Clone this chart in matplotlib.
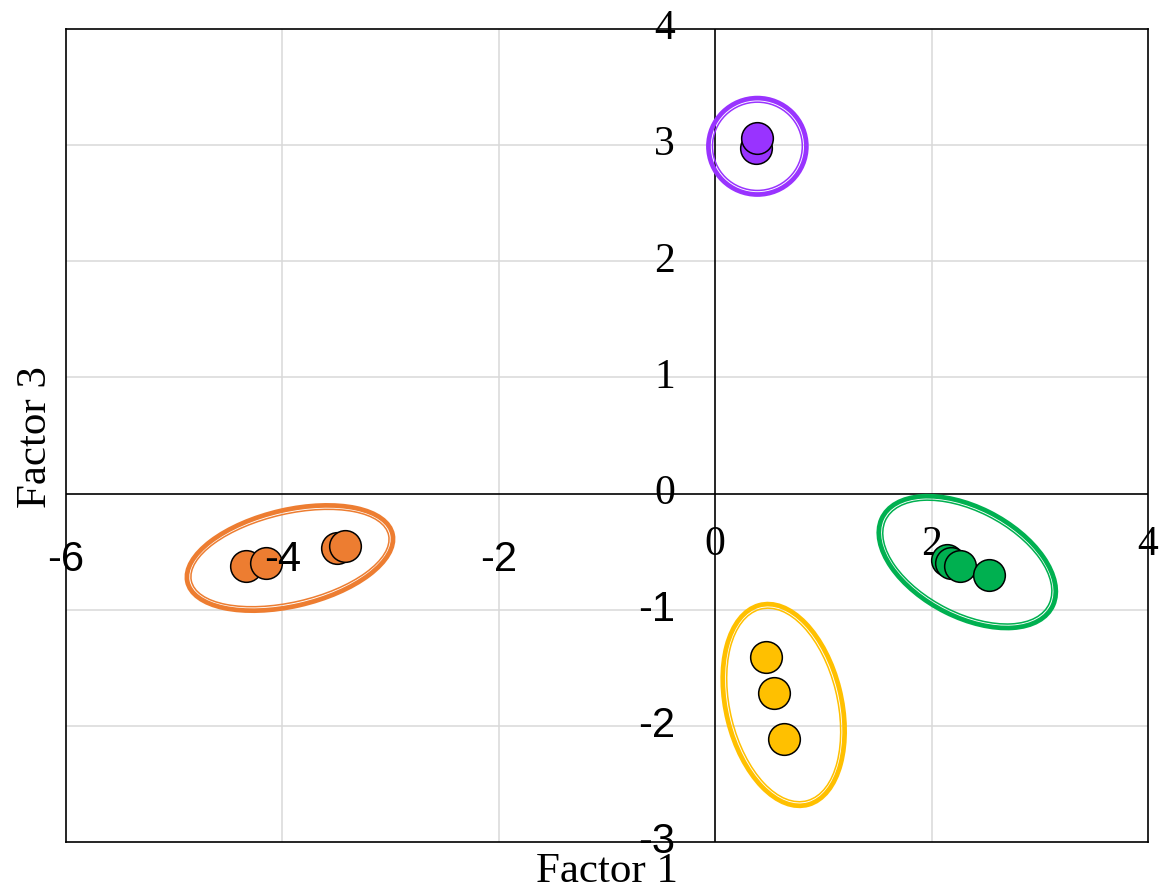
import matplotlib
matplotlib.use("Agg")
import matplotlib.pyplot as plt
from matplotlib.patches import Ellipse

# factor scores per group
orange_x = [-4.34, -4.15, -3.50, -3.42]
orange_y = [-0.62, -0.595, -0.47, -0.455]
yellow_x = [0.47, 0.545, 0.64]
yellow_y = [-1.41, -1.72, -2.115]
green_x = [2.14, 2.18, 2.26, 2.53]
green_y = [-0.57, -0.60, -0.62, -0.70]
purple_x = [0.38, 0.385]
purple_y = [2.975, 3.06]

# group ellipses: centre x, centre y, width, height, angle
orange_ell = [-3.93, -0.555, 1.94, 0.83, 12]
yellow_ell = [0.633, -1.82, 1.065, 1.775, 15]
green_ell = [2.33, -0.59, 1.75, 0.95, -25]
purple_ell = [0.39, 2.99, 0.905, 0.83, 0]

xticks = [-6, -4, -2, 0, 2, 4]
yticks = [-3, -2, -1, 0, 1, 2, 3, 4]

groups = [
    (orange_x, orange_y, orange_ell, "#ED7D31"),
    (yellow_x, yellow_y, yellow_ell, "#FFC000"),
    (green_x, green_y, green_ell, "#00B050"),
    (purple_x, purple_y, purple_ell, "#9933FF"),
]

serif = "Liberation Serif"
sans = "Liberation Sans"

fig = plt.figure(figsize=(11.6, 8.92), dpi=100)
ax = fig.add_axes([66/1160, 1 - 842/892, (1148-66)/1160, (842-29)/892])
ax.set_xlim(-6, 4)
ax.set_ylim(-3, 4)

for v in [-4, -2, 2]:
    ax.axvline(v, color="#D9D9D9", lw=1.1, zorder=0)
for v in [-2, -1, 1, 2, 3]:
    ax.axhline(v, color="#D9D9D9", lw=1.1, zorder=0)
ax.axhline(0, color="black", lw=1.2, zorder=1)
ax.axvline(0, color="black", lw=1.2, zorder=1)

for s in ax.spines.values():
    s.set_linewidth(1.2)
ax.set_xticks([])
ax.set_yticks([])

for xs, ys, ell, c in groups:
    cx, cy, w, h, ang = ell
    ax.add_patch(Ellipse((cx, cy), w, h, angle=ang, fill=False,
                         edgecolor=c, lw=3.4, zorder=2))
    ax.add_patch(Ellipse((cx, cy), w - 0.075, h - 0.07, angle=ang,
                         fill=False, edgecolor=c, lw=1.1, zorder=2))
    ax.scatter(xs, ys, s=520, color=c, edgecolors="black",
               linewidths=1.1, zorder=4)

# tick labels sitting on the zero axes
for v in xticks:
    if v < 0:
        ax.text(v, -0.57, str(v), ha="center", va="center", fontsize=30,
                family=sans, zorder=5, clip_on=False)
    else:
        ax.text(v, -0.44, str(v), ha="center", va="center", fontsize=30,
                family=serif, zorder=3, clip_on=False)
for v in yticks:
    if v < 0:
        ax.text(-0.37, v, str(v), ha="right", va="center", fontsize=30,
                family=sans, zorder=5, clip_on=False)
    else:
        ax.text(-0.37, v, str(v), ha="right", va="center", fontsize=30,
                family=serif, zorder=5, clip_on=False)

fig.text(607/1160, 1 - 872/892, "Factor 1", ha="center", va="center",
         fontsize=31, family=serif)
fig.text(36/1160, 1 - 437/892, "Factor 3", ha="center", va="center",
         fontsize=31, family=serif, rotation=90)

fig.savefig("out.png", dpi=100)
